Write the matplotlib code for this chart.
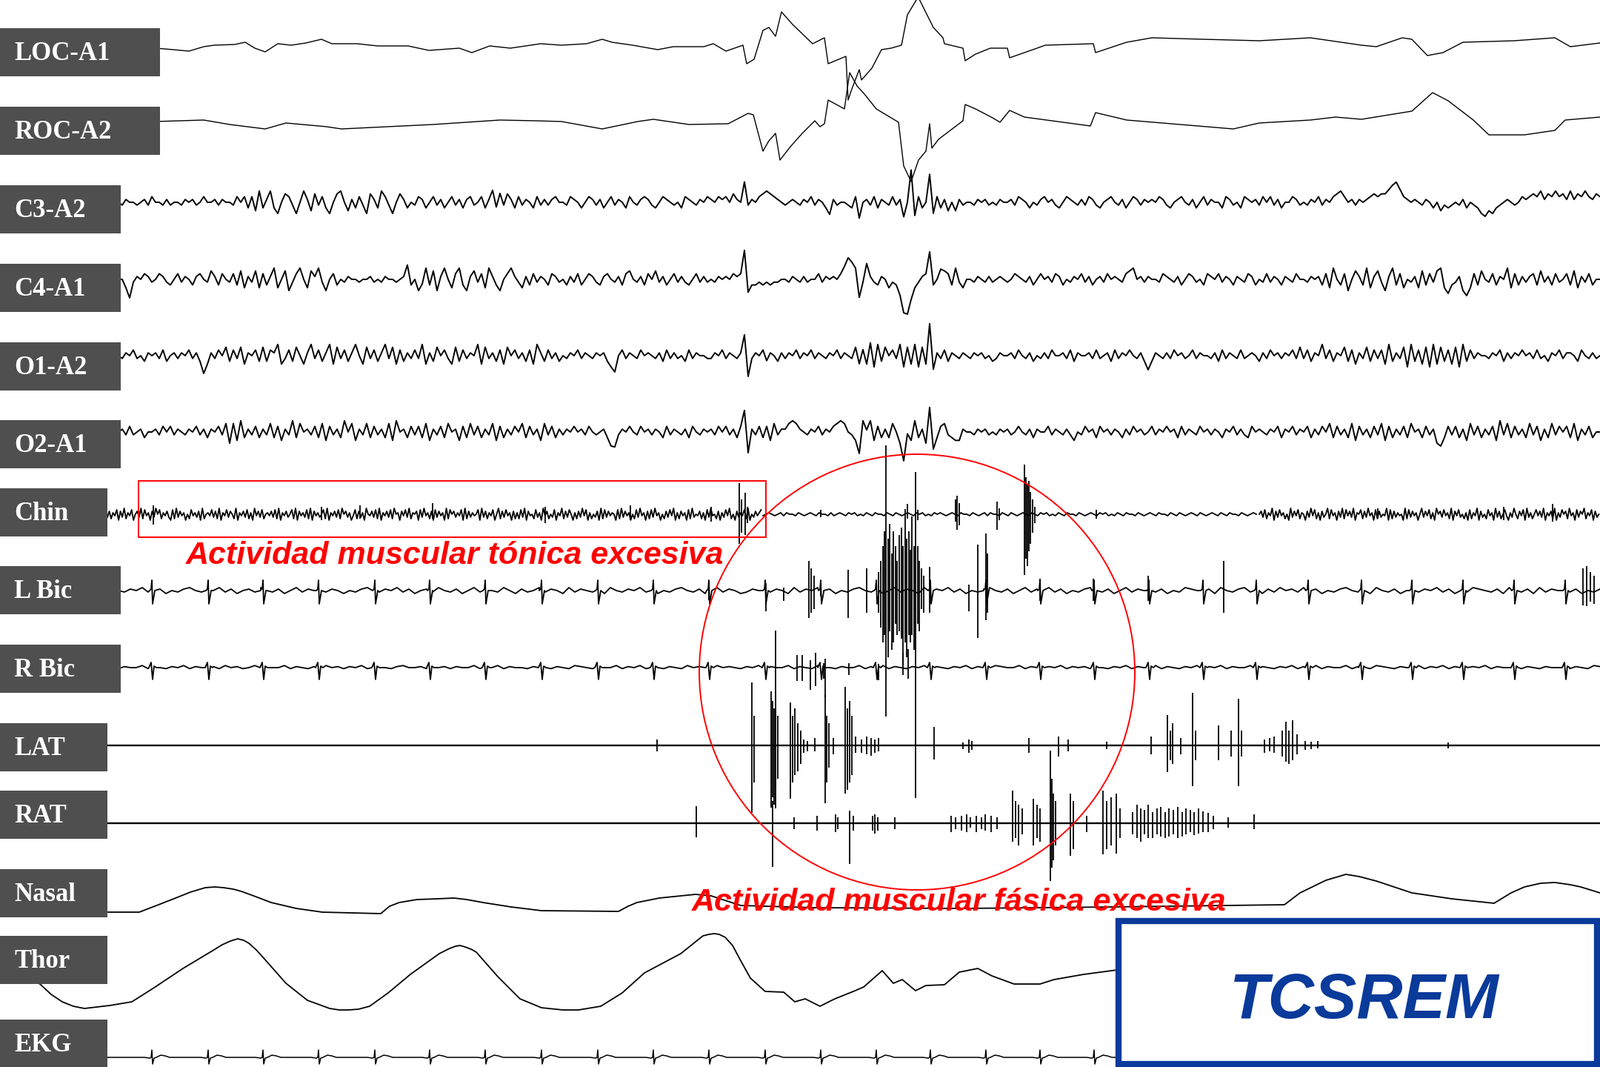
#!/usr/bin/env python3
"""
Polysomnography epoch showing REM sleep without atonia (TCSREM).
Traces are redrawn from values read off the original page (pixel units).
"""

import numpy as np
import matplotlib.pyplot as plt
from matplotlib.patches import Rectangle, Circle

labels = ["LOC-A1", "ROC-A2", "C3-A2", "C4-A1", "O1-A2", "O2-A1", "Chin",
          "L Bic", "R Bic", "LAT", "RAT", "Nasal", "Thor", "EKG"]

# eye channels: (x, deflection up)
loc_pts = [(210, -2), (234, -4), (255, -6), (275, 0), (289, 2), (317, 3), (331, 6), (344, -2),
           (358, -7), (375, 4), (393, 2), (413, 5), (434, 10), (448, 4), (482, 4), (510, 1),
           (551, 1), (579, -5), (620, -2), (637, -8), (661, 1), (689, -2), (730, 4), (758, 2),
           (792, 4), (813, 10), (826, 6), (854, 2), (888, -4), (909, 0), (950, 0), (963, 4),
           (980, -6), (1003, 2), (1008, -23), (1018, -17), (1030, 22), (1038, 26), (1047, 14),
           (1055, 47), (1070, 30), (1097, 4), (1113, 12), (1118, -23), (1142, -13), (1145, -72),
           (1150, -57), (1160, -31), (1163, -45), (1177, -29), (1190, -4), (1203, -2), (1217, 2),
           (1225, 43), (1237, 63), (1240, 66), (1260, 26), (1273, 12), (1275, 4), (1300, -2),
           (1303, -19), (1317, -10), (1337, -2), (1360, -2), (1363, -15), (1400, -2), (1411, 2),
           (1476, 4), (1479, -8), (1521, 6), (1555, 12), (1624, 10), (1700, 8), (1769, 12),
           (1838, 2), (1858, 0), (1893, 12), (1906, 10), (1927, -12), (1948, -8), (1975, 6),
           (2044, 8), (2099, 12), (2120, 0), (2160, 5)]
roc_pts = [(210, 0), (275, 2), (310, -4), (358, -10), (386, -2), (441, -7), (461, -10), (585, -4),
           (675, 2), (723, 1), (758, 0), (813, -10), (861, 0), (882, 3), (930, -4), (983, -3),
           (1010, 11), (1017, 9), (1030, -40), (1038, -26), (1047, -16), (1053, -52), (1067, -34),
           (1083, -16), (1100, 1), (1107, -7), (1113, -3), (1118, 29), (1140, 17), (1147, 66),
           (1157, 48), (1167, 37), (1183, 17), (1213, -1), (1220, -60), (1230, -81), (1240, -52),
           (1250, -40), (1255, -3), (1258, -36), (1267, -24), (1300, 1), (1303, 23), (1317, 17),
           (1340, 5), (1350, -1), (1363, 15), (1383, 6), (1472, -6), (1479, 12), (1521, 2),
           (1665, -10), (1700, -2), (1769, 2), (1803, 6), (1838, 3), (1906, 14), (1934, 39),
           (1955, 28), (1989, 2), (2010, -18), (2058, -18), (2099, -12), (2113, 2), (2160, 6)]

# EEG: one digit per sample, each chunk covers 200 px, '5' = baseline
c3_chunks = ["5465545647554645546564575564655475737293",
             "6931587415962847315895263741863974158635",
             "4763574635746367457364754863746537464675",
             "5476535764635746537546764357654537654657",
             "6576758657465789876545654657465326455437",
             "2564736547463574735657362526455465645465",
             "5647653546756435765464764356754635764656",
             "5764356754635746553764537656475746355764",
             "5465746578975646567878899987656546535243",
             "45463543102134565457678796879786968797687"]
c3_events = [(665, 20), (670, -14), (675, 12), (1005, 20), (1120, -5), (1160, -10),
             (1220, -12), (1230, 36), (1235, -14), (1255, 34), (1260, -15),
             (1875, 2), (1880, 8), (1885, 12), (1890, 6)]

c4_chunks = ["5520465764576435746536754863754738264827",
             "3692581479528694157354655455645465545683",
             "5169381695279316847296315796426374653764",
             "5364735764367546378546375846357464357464",
             "5465657679233434344554654645574656578999",
             "2486436524321012467935687394255465464565",
             "4576546357564763546574635647565478956465",
             "5476546357645376574653654763547465365475",
             "5465637295371586392684169372546283748920",
             "34610273854736592736467384637457382647355"]
c4_events = [(175, -6), (550, 8), (570, -10), (1005, 24), (1010, -6), (1140, 6), (1145, 14),
             (1150, 8), (1160, -13), (1170, 10), (1215, -10), (1220, -30), (1225, -28),
             (1230, -12), (1255, 22), (1270, 10), (1980, -3)]

o1_chunks = ["5465745365647356465746302647583748265738",
             "3769247385269473692847369528473694827364",
             "7492638574283746592846372857463729637463",
             "5465746546563105746547565463746453746554",
             "4657465469046574653646574657465465746548",
             "0928193857491829182926473654654656453465",
             "5647546354647556473655647456374657546303",
             "6546475645746554637465474565364756465748",
             "4736594736583726483747293648193728192837",
             "28193746554657364657564745365746653754645"]
o1_events = [(275, -5), (830, -3), (1005, 13), (1010, -9), (1035, -3), (1160, 8),
             (1165, -7), (1175, 6), (1255, 28), (1260, -7)]

o2_chunks = ["5647456355647574654657463657481829364736",
             "4837264938564738274639582648374638295637",
             "4738264738562738473648273647583746284736",
             "4657564754563014657547564653746546375465",
             "6475746379064737284668986546574657898542",
             "0919273638510729361913784322655465645465",
             "6457546365574654642547563756465364756457",
             "4657563746547564653657464375654657365746",
             "5736475837463827463748273647385637461037",
             "47362847364729483746384726384757382647355"]
o2_events = [(830, -5), (1005, 14), (1010, -9), (1160, -10), (1170, 18), (1220, -20),
             (1225, -10), (1255, 18), (1260, -8)]

# chin EMG: (start x, end x, samples)
chin_segments = [
    (145, 1030, "37264817392648157392846173958264731829374615"
                "28463719256483729164837529164738261947382564"
                "73829164735829174638291746358291647382957361"
                "48273619547382916473829561748392657183946271"
                "83746192857364819273645819372648159273846172"
                "62839174528361947253816492738516273948162537"
                "19283746518293746152839461728394615273849162"
                "74618293547261839452716384925173648291537468"),
    (1030, 1700, "45654564655465456546554645654656454654655465465456"
                 "54656454656545654655465456465546546545654654656454"
                 "65465546545654656454654655465456546554654654565465"
                 "456546546554654565"),
    (1700, 2161, "5738264917384625193748265173948261735928461739"
                 "2847391658273946182735491827364519283746159"
                 "3748261957384629174835261"
                 "8264917352846193725841639527481936258473916"
                 "4729163857294618375926481735"),
]
chin_bursts = [(207, 12, 14), (434, 10, 8), (486, 12, 6), (584, 15, 6), (736, 10, 12),
               (851, 12, 8), (960, 10, 10), (998, 42, 40), (1001, 20, 25), (1006, 29, 28),
               (1009, 10, 12), (1108, 6, 4), (1225, 14, 6), (1239, 6, 8), (1290, 20, 10),
               (1292, 25, 21), (1295, 15, 15), (1346, 17, 21), (1349, 8, 8), (1383, 67, 82),
               (1385, 50, 60), (1387, 40, 70), (1389, 45, 50), (1391, 30, 40), (1394, 20, 25),
               (1397, 10, 12), (1480, 6, 6), (1860, 8, 6), (2030, 10, 8), (2096, 14, 10)]

# biceps EMG background, each chunk covers 400 px
lbic_chunks = ["54657456354675465746356475463574657465354675465746",
               "35647546357465475364574653746546375465746354675463",
               "57465346574653746574635467546357465374657463546754",
               "63574657463546754635746574635476546375467453647564",
               "74635467546375463574657463547654637546374657463546"]
rbic_chunks = ["46557465465746556475645746557465465756465746554675",
               "56475646557465746554657465476546557465746546547565",
               "47565465746557465476546557465746546574654657465576",
               "55746546574656475465746557465465746574655746546574",
               "65746557465476546557465746546574655746546557465476"]

# heart beats (x of R wave) seen in EKG and as artefact in both biceps leads
beats = [205, 281, 355, 430, 506, 580, 655, 731, 807, 882, 957, 1033, 1108, 1183, 1256,
         1331, 1404, 1477, 1551, 1624, 1696, 1766, 1838, 1906, 1975, 2044, 2113]
ekg_dx = [-10, -3, -1, 0, 1, 3, 6, 12, 18, 24]
ekg_dy = [0, -1, 0, 10, -9, -1, 0, 3, 2, 0]
lbic_dx = [-3, -1, 0, 1, 4]
lbic_dy = [0, 2, 14, -18, 0]
rbic_dx = [-4, -1, 1, 3, 6]
rbic_dy = [0, 7, -16, 2, 0]

# phasic bursts: (x, up, down)
lbic_bursts = [(957, 6, 13), (1034, 10, 28), (1058, 4, 14), (1092, 40, 37), (1095, 30, 30),
               (1099, 20, 25), (1108, 14, 8), (1145, 28, 37), (1170, 30, 30), (1186, 25, 30),
               (1189, 40, 50), (1192, 60, 70), (1194, 80, 60), (1196, 196, 170), (1199, 70, 90),
               (1201, 90, 55), (1204, 50, 80), (1206, 80, 70), (1209, 60, 45), (1211, 40, 60),
               (1214, 75, 55), (1217, 85, 65), (1219, 60, 100), (1222, 110, 70), (1224, 70, 90),
               (1227, 80, 60), (1229, 55, 70), (1231, 100, 60), (1234, 60, 80), (1236, 160, 280),
               (1239, 60, 45), (1241, 40, 55), (1244, 30, 25), (1247, 20, 30), (1255, 32, 30),
               (1308, 8, 28), (1320, 62, 64), (1331, 77, 40), (1333, 50, 30), (1404, 16, 14),
               (1476, 16, 14), (1550, 20, 14), (1652, 40, 30), (2137, 30, 20), (2142, 33, 21),
               (2147, 25, 15), (2152, 20, 18)]
rbic_bursts = [(1047, 50, 190), (1076, 17, 18), (1083, 17, 18), (1094, 10, 30), (1101, 20, 25),
               (1112, 6, 15), (1114, 12, 40), (1146, 6, 10), (1186, 5, 17), (1219, 20, 10),
               (1226, 25, 15)]
lat_bursts = [(887, 8, 8), (1015, 85, 91), (1018, 40, 50), (1041, 73, 84), (1043, 60, 70),
              (1045, 50, 80), (1047, 70, 60), (1050, 40, 45), (1067, 58, 72), (1070, 40, 50),
              (1073, 50, 40), (1077, 30, 35), (1081, 20, 25), (1085, 8, 10), (1090, 6, 8),
              (1100, 10, 8), (1114, 69, 78), (1116, 40, 50), (1119, 30, 30), (1125, 10, 12),
              (1141, 79, 65), (1144, 50, 60), (1147, 60, 50), (1150, 40, 40), (1155, 12, 10),
              (1163, 8, 10), (1170, 12, 12), (1176, 10, 14), (1181, 8, 10), (1186, 10, 8),
              (1261, 25, 19), (1300, 4, 5), (1308, 8, 10), (1312, 6, 6), (1389, 10, 10),
              (1429, 12, 15), (1442, 8, 8), (1494, 5, 5), (1554, 12, 12), (1576, 41, 36),
              (1580, 20, 20), (1583, 30, 25), (1594, 10, 12), (1610, 71, 55), (1614, 20, 20),
              (1645, 27, 20), (1662, 20, 15), (1672, 63, 55), (1676, 20, 15), (1707, 8, 10),
              (1714, 10, 8), (1720, 12, 10), (1731, 20, 15), (1736, 32, 22), (1740, 20, 25),
              (1745, 34, 20), (1751, 15, 12), (1762, 6, 6), (1770, 5, 5), (1779, 6, 4),
              (1955, 4, 4)]
rat_bursts = [(940, 23, 19), (1043, 30, 59), (1072, 8, 8), (1103, 10, 10), (1128, 12, 12),
              (1131, 8, 8), (1147, 17, 55), (1152, 10, 10), (1178, 10, 10), (1181, 12, 14),
              (1185, 8, 10), (1208, 8, 8), (1284, 10, 12), (1290, 8, 8), (1298, 10, 10),
              (1305, 12, 12), (1310, 8, 6), (1318, 10, 12), (1325, 8, 8), (1330, 12, 10),
              (1338, 10, 12), (1346, 8, 8), (1367, 44, 25), (1371, 30, 20), (1375, 25, 30),
              (1380, 20, 15), (1395, 33, 30), (1400, 25, 20), (1404, 20, 25), (1418, 98, 78),
              (1420, 60, 60), (1422, 40, 50), (1425, 30, 30), (1445, 40, 44), (1449, 30, 35),
              (1467, 10, 12), (1489, 44, 42), (1494, 30, 35), (1500, 35, 30), (1507, 40, 41),
              (1512, 20, 20), (1529, 15, 15), (1535, 25, 20), (1540, 20, 25), (1545, 18, 15),
              (1550, 25, 20), (1556, 15, 20), (1562, 20, 15), (1567, 22, 18), (1573, 15, 20),
              (1578, 20, 18), (1584, 18, 15), (1590, 22, 20), (1596, 15, 18), (1601, 20, 15),
              (1607, 18, 12), (1612, 15, 16), (1618, 20, 14), (1624, 16, 12), (1631, 14, 12),
              (1638, 10, 8), (1658, 8, 6), (1693, 12, 8)]

# respiration: (x, deflection up)
nasal_pts = [(146, 0), (188, 0), (214, 10), (237, 19), (257, 27), (277, 33), (290, 34), (302, 33),
             (315, 31), (326, 28), (345, 21), (366, 13), (400, 5), (435, 0), (514, -2), (526, 8),
             (539, 13), (563, 17), (590, 18), (613, 19), (630, 17), (652, 13), (690, 7), (731, 2),
             (835, 1), (848, 8), (860, 13), (890, 19), (939, 24), (960, 22), (1000, 9), (1100, 6),
             (1300, 5), (1500, 7), (1734, 10), (1755, 26), (1790, 43), (1817, 51), (1835, 48),
             (1858, 42), (1906, 26), (1960, 18), (2017, 12), (2040, 26), (2058, 34), (2080, 39),
             (2099, 40), (2120, 37), (2134, 34), (2160, 26)]
thor_pts = [(40, -12), (54, -18), (69, -32), (84, -42), (99, -48), (114, -51), (148, -47),
            (178, -42), (208, -23), (247, 3), (287, 27), (300, 35), (311, 40), (321, 43),
            (329, 41), (336, 37), (346, 28), (356, 17), (386, -17), (415, -40), (445, -51),
            (458, -53), (470, -53), (484, -52), (499, -48), (524, -30), (554, -5), (593, 23),
            (607, 30), (615, 33), (621, 34), (628, 32), (636, 29), (643, 25), (672, -8),
            (702, -38), (731, -50), (760, -53), (781, -53), (811, -48), (840, -30), (870, -3),
            (919, 23), (949, 47), (957, 49), (964, 50), (971, 49), (979, 45), (989, 34),
            (998, 17), (1013, -10), (1033, -28), (1058, -29), (1073, -42), (1087, -38),
            (1107, -48), (1127, -38), (1152, -28), (1166, -22), (1191, 0), (1206, -17),
            (1218, -12), (1236, -27), (1250, -20), (1275, -19), (1295, -2), (1320, 3), (1339, -7),
            (1369, -18), (1404, -18), (1423, -12), (1463, -5), (1508, 1), (1560, 8)]

# ---- layout (page pixels) ----
W, H = 2160, 1440
box_top = [38, 144, 250, 356, 462, 567, 659, 764, 870, 976, 1067, 1173, 1263, 1376]
box_w = [216, 216, 163, 163, 163, 163, 145, 163, 163, 145, 145, 145, 145, 145]
BOX_H = 65
base = dict(zip(labels, [63, 164, 273, 377, 480, 583, 694, 797, 901, 1006, 1111, 1231, 1310, 1427]))
INK = "#000000"


def decode(chunks, x0, span, scale, x_end=None):
    xs, ys = [], []
    for k, s in enumerate(chunks):
        start = x0 + k * span
        n = len(s)
        if x_end is not None and k == len(chunks) - 1:
            xs.append(start + np.arange(n) * (x_end - start) / (n - 1))
        else:
            xs.append(start + np.arange(n) * span / n)
        ys.append((np.array([int(c) for c in s]) - 5) * scale)
    return np.concatenate(xs), np.concatenate(ys)


def add_events(x, y, events):
    for ex, amp in events:
        y[np.argmin(np.abs(x - ex))] += amp
    return y


def with_beats(x, y, dx, dy):
    keep = np.ones(len(x), bool)
    for b in beats:
        keep &= ~((x > b + dx[0]) & (x < b + dx[-1]))
    bx = np.concatenate([x[keep]] + [b + np.array(dx, float) for b in beats])
    by = np.concatenate([y[keep]] + [np.array(dy, float) for b in beats])
    order = np.argsort(bx)
    return bx[order], by[order]


def draw_pts(ax, pts, name, lw=1.0):
    p = np.array(pts, float)
    ax.plot(p[:, 0], base[name] - p[:, 1], color=INK, lw=lw, zorder=2)


def draw_bursts(ax, bursts, name):
    b = np.array(bursts, float)
    ax.vlines(b[:, 0], base[name] - b[:, 1], base[name] + b[:, 2], color=INK, lw=1.3, zorder=2)


fig = plt.figure(figsize=(W / 100, H / 100), dpi=100)
ax = fig.add_axes([0, 0, 1, 1])
ax.set_xlim(0, W)
ax.set_ylim(H, 0)
ax.axis("off")

# eye movements
draw_pts(ax, loc_pts, "LOC-A1", 1.0)
draw_pts(ax, roc_pts, "ROC-A2", 1.0)

# EEG
for name, chunks, events in [("C3-A2", c3_chunks, c3_events), ("C4-A1", c4_chunks, c4_events),
                             ("O1-A2", o1_chunks, o1_events), ("O2-A1", o2_chunks, o2_events)]:
    x, y = decode(chunks, 160, 200, 3.8, x_end=W)
    y = add_events(x, y, events)
    ax.plot(x, base[name] - y, color=INK, lw=1.4, zorder=2)

# chin
for x0, x1, s in chin_segments:
    x, y = decode([s], x0, x1 - x0, 2.0)
    ax.plot(x, base["Chin"] - y, color=INK, lw=1.3, zorder=2)
draw_bursts(ax, chin_bursts, "Chin")

# biceps
for name, chunks, dx, dy, scale in [("L Bic", lbic_chunks, lbic_dx, lbic_dy, 2.0),
                                    ("R Bic", rbic_chunks, rbic_dx, rbic_dy, 1.4)]:
    x, y = decode(chunks, 160, 400, scale, x_end=W)
    x, y = with_beats(x, y, dx, dy)
    ax.plot(x, base[name] - y, color=INK, lw=1.3, zorder=2)
draw_bursts(ax, lbic_bursts, "L Bic")
draw_bursts(ax, rbic_bursts, "R Bic")

# anterior tibialis
for name, bursts in [("LAT", lat_bursts), ("RAT", rat_bursts)]:
    ax.plot([145, W], [base[name], base[name]], color=INK, lw=1.7, zorder=2)
    draw_bursts(ax, bursts, name)

# respiration
draw_pts(ax, nasal_pts, "Nasal", 1.3)
draw_pts(ax, thor_pts, "Thor", 1.3)

# EKG
ex, ey = with_beats(np.array([145.0, W]), np.array([0.0, 0.0]), ekg_dx, ekg_dy)
ax.plot(ex, base["EKG"] - ey, color=INK, lw=1.1, zorder=2)

# channel label boxes
for name, top, w in zip(labels, box_top, box_w):
    ax.add_patch(Rectangle((0, top), w, BOX_H, facecolor="#4f4f4f", edgecolor="none", zorder=4))
    ax.text(19, top + BOX_H / 2 + 2, name, color="white", fontsize=25, fontweight="bold",
            family="Liberation Serif", ha="left", va="center", zorder=5)

# annotations
ax.add_patch(Rectangle((187, 649), 847, 76, fill=False, edgecolor="#ff0000", lw=1.4, zorder=6))
ax.add_patch(Circle((1238, 907), 294, fill=False, edgecolor="#ff0000", lw=1.4, zorder=6))
ax.text(251, 761, "Actividad muscular tónica excesiva", color="#ff0000", fontsize=31,
        fontweight="bold", style="italic", family="Liberation Sans", ha="left",
        va="baseline", zorder=7)
ax.text(934, 1229, "Actividad muscular fásica excesiva", color="#ff0000", fontsize=31,
        fontweight="bold", style="italic", family="Liberation Sans", ha="left",
        va="baseline", zorder=7)

# TCSREM box
ax.add_patch(Rectangle((1510, 1243), 646, 193, facecolor="white", edgecolor="#0a3a9a",
                       lw=6, zorder=8))
ax.text(1842, 1374, "TCSREM", color="#0a3a9a", fontsize=62, fontweight="bold",
        style="italic", family="Liberation Sans", ha="center", va="baseline", zorder=9)

fig.savefig("out.png", dpi=100)
plt.close(fig)
